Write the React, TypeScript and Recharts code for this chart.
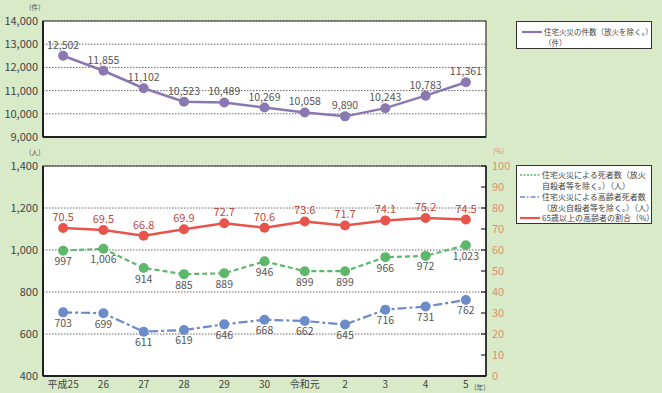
import React from 'react';
import { LineChart, Line, XAxis, YAxis, CartesianGrid, LabelList, ReferenceArea } from 'recharts';

const FONT = '"Noto Sans CJK JP", "Noto Sans", sans-serif';
const BG = '#d9eac9';

const years = ['平成25', '26', '27', '28', '29', '30', '令和元', '2', '3', '4', '5'];
const fires = [12502, 11855, 11102, 10523, 10489, 10269, 10058, 9890, 10243, 10783, 11361];
const deaths = [997, 1006, 914, 885, 889, 946, 899, 899, 966, 972, 1023];
const elderlyDeaths = [703, 699, 611, 619, 646, 668, 662, 645, 716, 731, 762];
const elderlyRatio = [70.5, 69.5, 66.8, 69.9, 72.7, 70.6, 73.6, 71.7, 74.1, 75.2, 74.5];

const fireTicks = [9000, 10000, 11000, 12000, 13000, 14000];
const peopleTicks = [400, 600, 800, 1000, 1200, 1400];
const ratioTicks = [0, 10, 20, 30, 40, 50, 60, 70, 80, 90, 100];
const yearTicks = years.map((_, i) => i);
const boundaryTicks = years.slice(1).map((_, i) => i + 0.5);
const xDomain = [-0.5, years.length - 0.5];

const data = years.map((year, i) => ({
  i,
  year,
  fires: fires[i],
  deaths: deaths[i],
  elderly: elderlyDeaths[i],
  ratio: elderlyRatio[i],
}));

const colors = {
  fires: '#8a78b1',
  deaths: '#5db86c',
  elderly: '#6b8bc9',
  ratio: '#e8544b',
};

const comma = (v: any) => Number(v).toLocaleString('en-US');
const axisTick = { fill: '#444', fontSize: 11, fontFamily: FONT };
const valueLabel = { fill: '#555', fontSize: 10.5, fontFamily: FONT };

const Sample = ({ color, dash }: { color: string; dash?: string }) => (
  <svg width={20} height={8} style={{ flex: 'none', marginTop: 1 }}>
    <line x1={0} y1={4} x2={20} y2={4} stroke={color} strokeWidth={dash ? 1.6 : 2.2} strokeDasharray={dash} />
  </svg>
);

const unit = (text: string, left: number, top: number, color = '#555', size = 7) => (
  <div style={{ position: 'absolute', left, top, fontSize: size, color, lineHeight: 1, whiteSpace: 'nowrap' }}>{text}</div>
);

export default function App() {
  return (
    <div style={{ position: 'absolute', left: 0, top: 0, width: 662, height: 393, background: BG, fontFamily: FONT, overflow: 'hidden' }}>
      {/* top: number of fires */}
      <div style={{ position: 'absolute', left: 0, top: 0 }}>
        <LineChart width={520} height={150} data={data} margin={{ top: 21, right: 34, left: 0, bottom: 12 }}>
          <CartesianGrid vertical={false} fill="#fff" stroke="#666" strokeDasharray="1.5 1.5" />
          <XAxis
            dataKey="i"
            type="number"
            domain={xDomain}
            ticks={boundaryTicks}
            tick={false}
            tickSize={-5}
            tickLine={{ stroke: '#222', strokeWidth: 1.2 }}
            axisLine={{ stroke: '#222', strokeWidth: 2 }}
            height={1}
          />
          <YAxis
            domain={[9000, 14000]}
            ticks={fireTicks}
            tickFormatter={comma}
            tick={axisTick}
            tickLine={false}
            tickSize={0}
            tickMargin={5}
            axisLine={{ stroke: '#222', strokeWidth: 2 }}
            width={43}
          />
          <ReferenceArea x1={xDomain[0]} x2={xDomain[1]} y1={9000} y2={14000} fill="none" stroke="#333" strokeWidth={1.2} />
          <Line
            dataKey="fires"
            stroke={colors.fires}
            strokeWidth={2.5}
            dot={{ r: 5, fill: colors.fires, stroke: colors.fires, strokeWidth: 0 }}
            isAnimationActive={false}
          >
            <LabelList dataKey="fires" position="top" offset={7} formatter={comma} style={valueLabel} />
          </Line>
        </LineChart>
      </div>

      {/* bottom: deaths and elderly ratio */}
      <div style={{ position: 'absolute', left: 0, top: 140 }}>
        <LineChart width={520} height={253} data={data} margin={{ top: 26, right: 0, left: 0, bottom: 15 }}>
          <CartesianGrid vertical={false} fill="#fff" stroke="#666" strokeDasharray="1.5 1.5" />
          <XAxis
            dataKey="i"
            type="number"
            domain={xDomain}
            ticks={boundaryTicks}
            tick={false}
            tickSize={-5}
            tickLine={{ stroke: '#222', strokeWidth: 1.2 }}
            axisLine={{ stroke: '#222', strokeWidth: 2 }}
            height={1}
          />
          <XAxis
            xAxisId="lab"
            dataKey="i"
            type="number"
            domain={xDomain}
            ticks={yearTicks}
            tickFormatter={(v: number) => years[v] ?? ''}
            tick={{ fill: '#444', fontSize: 10, fontFamily: FONT }}
            tickLine={false}
            tickSize={0}
            tickMargin={4}
            axisLine={false}
            height={1}
          />
          <YAxis
            domain={[400, 1400]}
            ticks={peopleTicks}
            tickFormatter={comma}
            tick={axisTick}
            tickLine={false}
            tickSize={0}
            tickMargin={5}
            axisLine={{ stroke: '#222', strokeWidth: 2 }}
            width={43}
          />
          <YAxis
            yAxisId="p"
            orientation="right"
            domain={[0, 100]}
            ticks={ratioTicks}
            tick={{ fill: '#e0906c', fontSize: 11, fontFamily: FONT }}
            tickSize={-5}
            tickMargin={11}
            tickLine={{ stroke: '#222', strokeWidth: 1.2 }}
            axisLine={{ stroke: '#222', strokeWidth: 1.5 }}
            width={34}
          />
          <ReferenceArea x1={xDomain[0]} x2={xDomain[1]} y1={400} y2={1400} fill="none" stroke="#333" strokeWidth={1.2} />
          <Line
            dataKey="deaths"
            stroke={colors.deaths}
            strokeWidth={2.2}
            strokeDasharray="5 3"
            dot={{ r: 5, fill: colors.deaths, stroke: colors.deaths, strokeWidth: 0 }}
            isAnimationActive={false}
          >
            <LabelList dataKey="deaths" position="bottom" offset={7} formatter={comma} style={valueLabel} />
          </Line>
          <Line
            dataKey="elderly"
            stroke={colors.elderly}
            strokeWidth={2.2}
            strokeDasharray="9 3 3 3"
            dot={{ r: 5, fill: colors.elderly, stroke: colors.elderly, strokeWidth: 0 }}
            isAnimationActive={false}
          >
            <LabelList dataKey="elderly" position="bottom" offset={7} formatter={comma} style={valueLabel} />
          </Line>
          <Line
            yAxisId="p"
            dataKey="ratio"
            stroke={colors.ratio}
            strokeWidth={2.5}
            dot={{ r: 5, fill: colors.ratio, stroke: colors.ratio, strokeWidth: 0 }}
            isAnimationActive={false}
          >
            <LabelList dataKey="ratio" position="top" offset={7} formatter={(v: any) => Number(v).toFixed(1)} style={{ ...valueLabel, fill: '#c24a40', fontSize: 11 }} />
          </Line>
        </LineChart>
      </div>

      {unit('(件)', 29, 4)}
      {unit('(人)', 29, 149)}
      {unit('(%)', 493, 148, '#e0906c')}
      {unit('(年)', 474, 384, '#555', 7)}

      {/* legends */}
      <div style={{ position: 'absolute', left: 516, top: 21, width: 136, height: 28, boxSizing: 'border-box', background: '#fff', border: '1.5px solid #333', padding: '5px 0 0 5px', fontSize: 7.5, lineHeight: '10.5px', color: '#444' }}>
        <div style={{ display: 'flex', gap: 2 }}>
          <Sample color={colors.fires} />
          <div style={{ whiteSpace: 'nowrap' }}>住宅火災の件数（放火を除く。）<br />（件）</div>
        </div>
      </div>
      <div style={{ position: 'absolute', left: 516, top: 165, width: 136, height: 59, boxSizing: 'border-box', background: '#fff', border: '1.5px solid #333', padding: '4px 0 0 3px', fontSize: 8, lineHeight: '10.5px', color: '#444' }}>
        <div style={{ display: 'flex', gap: 2 }}>
          <Sample color={colors.deaths} dash="2 1.5" />
          <div style={{ whiteSpace: 'nowrap' }}>住宅火災による死者数（放火<br />自殺者等を除く。）（人）</div>
        </div>
        <div style={{ display: 'flex', gap: 2, marginTop: 1 }}>
          <Sample color={colors.elderly} dash="5 2 1.5 2" />
          <div style={{ whiteSpace: 'nowrap' }}>住宅火災による高齢者死者数<br />（放火自殺者等を除く。）（人）</div>
        </div>
        <div style={{ display: 'flex', gap: 2 }}>
          <Sample color={colors.ratio} />
          <div style={{ whiteSpace: 'nowrap' }}>65歳以上の高齢者の割合（%）</div>
        </div>
      </div>
    </div>
  );
}
